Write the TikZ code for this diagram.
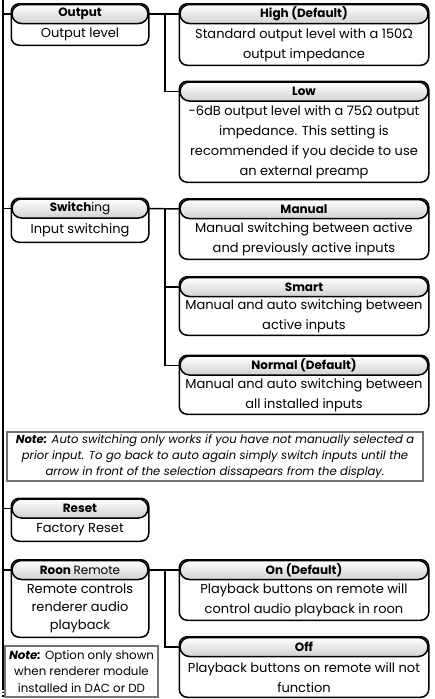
\documentclass[tikz,border=0pt]{standalone}
\usepackage{fontspec}
\setmainfont{Poppins}
\newfontfamily\ohmfont{Lato}
\usetikzlibrary{positioning,fit,shapes.misc}

\begin{document}
\begin{tikzpicture}[
    x=1pt,y=-1pt,line width=1.5pt,
    font=\fontsize{13}{20}\selectfont,
    head/.style={rounded rectangle,draw,top color=white,bottom color=black!18,
      minimum height=19pt,inner sep=0pt,font=\fontsize{12}{20}\selectfont\bfseries},
    headA/.style={head,minimum width=136pt},
    headB/.style={head,minimum width=248pt},
    body/.style={inner sep=0pt,align=center,anchor=north},
    frame/.style={draw,rounded corners=8pt,inner sep=0pt},
    note/.style={draw=black!55,line width=1.1pt,align=center,inner sep=0pt},
    link/.style={line width=1.5pt}
  ]
    \useasboundingbox (0,0) rectangle (434,699);
    \coordinate (spine) at (3,0);
    \coordinate (spineEnd) at (3,688);
    \coordinate (spineTail) at (3,699);
    \coordinate (fork) at (165,0);

    % Output
    \node[headA] (hOut) at (80,14) {Output};
    \node[body,minimum height=19.5pt] (bOut) at (hOut.south) {Output level};
    \node[frame,fit=(hOut)(bOut)] (Out) {};
    \node[headB] (hHigh) at (304,14) {High (Default)};
    \node[body,minimum height=39.5pt] (bHigh) at (hHigh.south) {Standard output level with a 150{\ohmfont Ω}\\output impedance};
    \node[frame,fit=(hHigh)(bHigh)] (High) {};
    \node[headB] (hLow) at (304,91.5) {Low};
    \node[body,minimum height=79pt] (bLow) at (hLow.south) {-6dB output level with a 75{\ohmfont Ω} output\\impedance. This setting is\\recommended if you decide to use\\an external preamp};
    \node[frame,fit=(hLow)(bLow)] (Low) {};

    % Switching
    \node[headA] (hSw) at (80,208.5) {Switch{\mdseries ing}};
    \node[body,minimum height=22pt] (bSw) at (hSw.south) {Input switching};
    \node[frame,fit=(hSw)(bSw)] (Sw) {};
    \node[headB] (hMan) at (304,209) {Manual};
    \node[body,minimum height=38.5pt] (bMan) at (hMan.south) {Manual switching between active\\and previously active inputs};
    \node[frame,fit=(hMan)(bMan)] (Man) {};
    \node[headB] (hSmart) at (304,287) {Smart};
    \node[body,minimum height=36.5pt] (bSmart) at (hSmart.south) {Manual and auto switching between\\active inputs};
    \node[frame,fit=(hSmart)(bSmart)] (Smart) {};
    \node[headB] (hNorm) at (304,365.5) {Normal (Default)};
    \node[body,minimum height=37pt] (bNorm) at (hNorm.south) {Manual and auto switching between\\all installed inputs};
    \node[frame,fit=(hNorm)(bNorm)] (Norm) {};

    \node[note,minimum width=416pt,minimum height=49pt,font=\fontsize{11.6}{16}\selectfont\itshape] (noteSw) at (215,456.5)
      {\textbf{Note:} Auto switching only works if you have not manually selected a\\prior input. To go back to auto again simply switch inputs until the\\arrow in front of the selection dissapears from the display.};

    % Reset
    \node[headA] (hReset) at (80,508.5) {Reset};
    \node[body,minimum height=21pt] (bReset) at (hReset.south) {Factory Reset};
    \node[frame,fit=(hReset)(bReset)] (Reset) {};

    % Roon Remote
    \node[headA] (hRoon) at (80,570) {Roon {\mdseries Remote}};
    \node[body,minimum height=55.5pt,font=\fontsize{13}{18}\selectfont] (bRoon) at (hRoon.south) {Remote controls\\renderer audio\\playback};
    \node[frame,fit=(hRoon)(bRoon)] (Roon) {};
    \node[headB] (hOn) at (304,570) {On (Default)};
    \node[body,minimum height=38.5pt] (bOn) at (hOn.south) {Playback buttons on remote will\\control audio playback in roon};
    \node[frame,fit=(hOn)(bOn)] (On) {};
    \node[headB] (hOff) at (304,647) {Off};
    \node[body,minimum height=38.5pt] (bOff) at (hOff.south) {Playback buttons on remote will not\\function};
    \node[frame,fit=(hOff)(bOff)] (Off) {};

    \node[note,minimum width=153pt,minimum height=51pt,font=\fontsize{11.8}{16.5}\selectfont] (noteRoon) at (81.5,671.5)
      {\textbf{\itshape Note:} Option only shown\\when renderer module\\installed in DAC or DD};

    % connectors
    \draw[link] (spine) -- (spineEnd);
    \draw[link,dotted] (spineEnd) -- (spineTail);
    \draw[link] (hOut.west -| spine) -- (hOut.west);
    \draw[link] (hSw.west -| spine) -- (hSw.west);
    \draw[link] (hReset.west -| spine) -- (hReset.west);
    \draw[link] (hRoon.west -| spine) -- (hRoon.west);
    \draw[link] (hOut.east) -- (hHigh.west);
    \draw[link] (hOut.east -| fork) |- (hLow.west);
    \draw[link] (hSw.east) -- (hMan.west);
    \draw[link] (hSw.east -| fork) |- (hNorm.west);
    \draw[link] (hSmart.west -| fork) -- (hSmart.west);
    \draw[link] (hRoon.east) -- (hOn.west);
    \draw[link] (hRoon.east -| fork) |- (hOff.west);
  \end{tikzpicture}
\end{document}
